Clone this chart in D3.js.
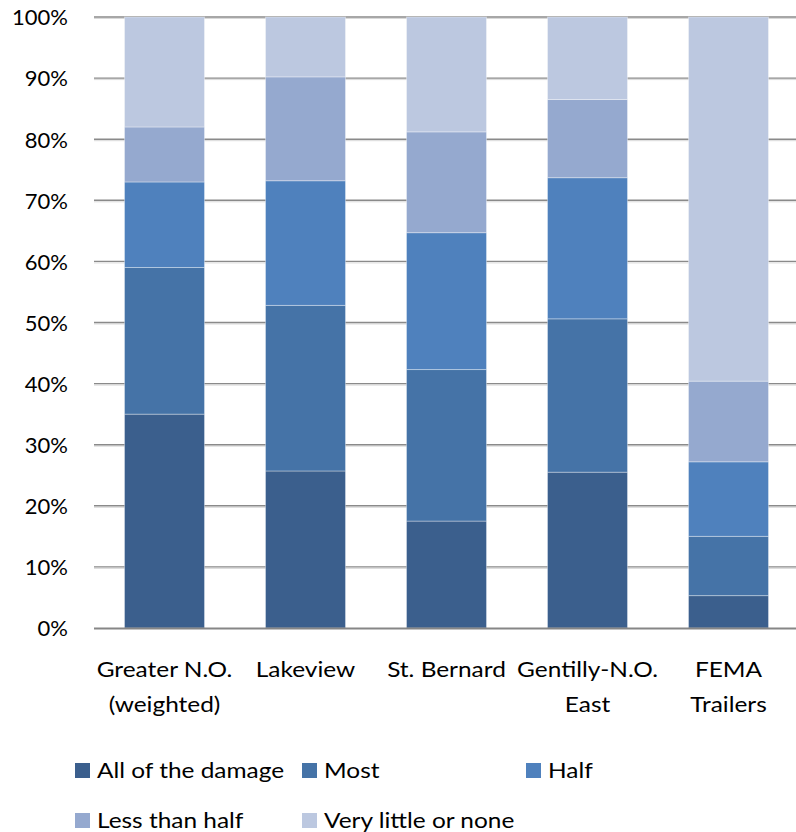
<!DOCTYPE html>
<html>
<head>
<meta charset="utf-8">
<script src="https://cdn.jsdelivr.net/npm/d3@7"></script>
<style>
  body { margin: 0; background: #fff; }
  svg text { font-family: Lato, "Noto Sans", sans-serif; fill: #000; }
</style>
</head>
<body>
<svg id="chart" width="796" height="832"></svg>
<script>
// categories (multi-line labels)
var categories = ["Greater N.O.|(weighted)", "Lakeview", "St. Bernard", "Gentilly-N.O.|East", "FEMA|Trailers"];
// series, bottom to top
var seriesNames = ["All of the damage", "Most", "Half", "Less than half", "Very little or none"];
var allDamage   = [35.0, 25.7, 17.5, 25.5, 5.3];
var most        = [24.0, 27.1, 24.8, 25.1, 9.7];
var half        = [14.0, 20.4, 22.4, 23.1, 12.2];
var lessHalf    = [9.0, 17.0, 16.5, 12.8, 13.2];
var veryLittle  = [18.0, 9.8, 18.8, 13.5, 59.6];
var yTicks = [0, 10, 20, 30, 40, 50, 60, 70, 80, 90, 100];

(function () {
  var colors = ["#3b5f8d", "#4573a7", "#4f81bd", "#95a9cf", "#bcc8e0"];
  var textScale = 1.11; // reference font runs wider than Lato

  var svg = d3.select("#chart");
  var mLeft = 94, mRight = 799, mTop = 17, mBottom = 628;

  // build table for stack
  var table = categories.map(function(c, i) {
    return {
      cat: c,
      "All of the damage": allDamage[i],
      "Most": most[i],
      "Half": half[i],
      "Less than half": lessHalf[i],
      "Very little or none": veryLittle[i]
    };
  });
  var stacked = d3.stack().keys(seriesNames)(table);

  var x = d3.scaleBand()
      .domain(categories)
      .range([mLeft, mRight])
      .paddingInner(0.4326)
      .paddingOuter(0.2163);
  var y = d3.scaleLinear().domain([0, 100]).range([mBottom, mTop]);

  // gridlines (dark line with a lighter shadow under it)
  var grid = svg.append("g");
  grid.selectAll("line.shadow")
      .data(yTicks.filter(function(d) { return d > 0; }))
      .enter().append("line")
      .attr("class", "shadow")
      .attr("x1", mLeft).attr("x2", 796)
      .attr("y1", function(d) { return y(d) + 1.5; })
      .attr("y2", function(d) { return y(d) + 1.5; })
      .attr("stroke", "#d9d9d9")
      .attr("stroke-width", 1);
  grid.selectAll("line.main")
      .data(yTicks.filter(function(d) { return d > 0; }))
      .enter().append("line")
      .attr("class", "main")
      .attr("x1", mLeft).attr("x2", 796)
      .attr("y1", function(d) { return y(d); })
      .attr("y2", function(d) { return y(d); })
      .attr("stroke", "#8a8a8a")
      .attr("stroke-width", 1.4);

  // y axis labels
  svg.append("g").selectAll("text")
      .data(yTicks)
      .enter().append("text")
      .attr("text-anchor", "end")
      .attr("x", 68)
      .attr("y", function(d) { return y(d); })
      .attr("dy", "0.38em")
      .style("font-size", "22px")
      .text(function(d) { return d + "%"; });

  // bars
  svg.append("g")
      .selectAll("g")
      .data(stacked)
      .enter().append("g")
      .attr("fill", function(d, i) { return colors[i]; })
      .selectAll("rect")
      .data(function(d) { return d; })
      .enter().append("rect")
      .attr("x", function(d) { return x(d.data.cat); })
      .attr("y", function(d) { return y(d[1]); })
      .attr("width", x.bandwidth())
      .attr("height", function(d) { return y(d[0]) - y(d[1]); })
      .attr("stroke", "rgba(255,255,255,0.35)")
      .attr("stroke-width", 1);

  // baseline
  svg.append("line")
      .attr("x1", mLeft).attr("x2", 796)
      .attr("y1", y(0) + 0.5).attr("y2", y(0) + 0.5)
      .attr("stroke", "#868686")
      .attr("stroke-width", 2);

  // category labels
  var catLabels = svg.append("g").selectAll("text")
      .data(categories)
      .enter().append("text")
      .attr("text-anchor", "middle")
      .style("font-size", "22px")
      .attr("transform", function(d) {
        return "translate(" + (x(d) + x.bandwidth() / 2) + ",677) scale(" + textScale + ",1)";
      });
  catLabels.selectAll("tspan")
      .data(function(d) { return d.split("|"); })
      .enter().append("tspan")
      .attr("x", 0)
      .attr("y", function(d, i) { return i * 35; })
      .text(function(d) { return d; });

  // legend
  var legendPos = [[75, 763], [302, 763], [526, 763], [75, 813], [302, 813]];
  var legend = svg.append("g").selectAll("g")
      .data(seriesNames)
      .enter().append("g")
      .attr("transform", function(d, i) { return "translate(" + legendPos[i][0] + "," + legendPos[i][1] + ")"; });
  legend.append("rect")
      .attr("width", 15).attr("height", 15)
      .attr("fill", function(d, i) { return colors[i]; });
  legend.append("text")
      .attr("transform", "translate(22,15) scale(" + textScale + ",1)")
      .style("font-size", "22px")
      .text(function(d) { return d; });
})();
</script>
</body>
</html>
